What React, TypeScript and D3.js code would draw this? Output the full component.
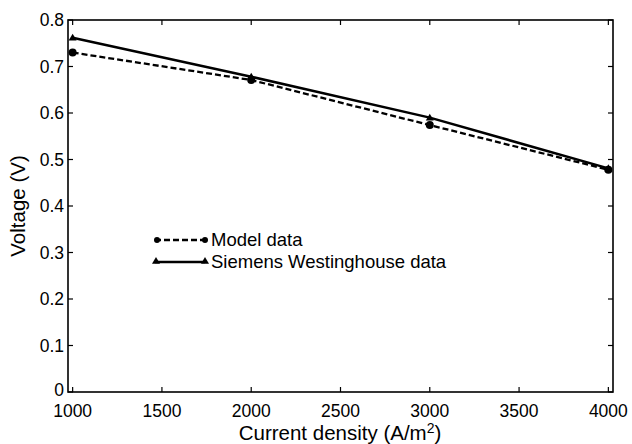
import React from "react";
import * as d3 from "d3";

const currentDensity = [1000, 2000, 3000, 4000];
const modelVoltage = [0.73, 0.671, 0.574, 0.478];
const siemensVoltage = [0.762, 0.678, 0.59, 0.481];
const xTicks = [1000, 1500, 2000, 2500, 3000, 3500, 4000];
const yTicks = [0, 0.1, 0.2, 0.3, 0.4, 0.5, 0.6, 0.7, 0.8];
const seriesNames = ["Model data", "Siemens Westinghouse data"];

const W = 632, H = 444;
const L = 68, R = 613, T = 20, B = 392;

export default function App() {
  const x = d3.scaleLinear().domain([974, 4026]).range([L, R]);
  const y = d3.scaleLinear().domain([0, 0.8]).range([B, T]);
  const line = d3.line<number>().x((_, i) => x(currentDensity[i])).y((v) => y(v));
  const font = "'Liberation Sans', Arial, Helvetica, sans-serif";
  const tri = (cx: number, cy: number, s: number) =>
    `M${cx},${cy - s} L${cx + s},${cy + s * 0.7} L${cx - s},${cy + s * 0.7} Z`;
  const legX0 = 155, legX1 = 205;
  return (
    <svg width={W} height={H} style={{ position: "absolute", left: 0, top: 0 }} fontFamily={font}>
      <rect x={0} y={0} width={W} height={H} fill="#fff" />
      <rect x={L} y={T} width={R - L} height={B - T} fill="none" stroke="#000" strokeWidth={1.6} />
      {xTicks.map((t) => (
        <g key={"x" + t}>
          <line x1={x(t)} x2={x(t)} y1={B} y2={B - 5} stroke="#000" strokeWidth={1.2} />
          <line x1={x(t)} x2={x(t)} y1={T} y2={T + 5} stroke="#000" strokeWidth={1.2} />
          <text x={x(t)} y={B + 25} fontSize={17.5} textAnchor="middle" fill="#000">{t}</text>
        </g>
      ))}
      {yTicks.map((t) => (
        <g key={"y" + t}>
          <line x1={L} x2={L + 5} y1={y(t)} y2={y(t)} stroke="#000" strokeWidth={1.2} />
          <line x1={R} x2={R - 5} y1={y(t)} y2={y(t)} stroke="#000" strokeWidth={1.2} />
          <text x={L - 4} y={y(t) + (t === 0 ? 4 : 6)} fontSize={17.5} textAnchor="end" fill="#000">{t === 0 ? "0" : t.toFixed(1)}</text>
        </g>
      ))}
      <path d={line(siemensVoltage) || ""} fill="none" stroke="#000" strokeWidth={2.5} />
      <path d={line(modelVoltage) || ""} fill="none" stroke="#000" strokeWidth={2.3} strokeDasharray="6,3" />
      {siemensVoltage.map((v, i) => (
        <path key={"s" + i} d={tri(x(currentDensity[i]), y(v), 4)} fill="#000" />
      ))}
      {modelVoltage.map((v, i) => (
        <circle key={"m" + i} cx={x(currentDensity[i])} cy={y(v)} r={4} fill="#000" />
      ))}
      <line x1={legX0} x2={legX1} y1={240} y2={240} stroke="#000" strokeWidth={2.3} strokeDasharray="6,3" />
      <circle cx={legX0 + 2} cy={240} r={3} fill="#000" />
      <circle cx={legX1} cy={240} r={3} fill="#000" />
      <text x={legX1 + 6} y={246} fontSize={18.5} fill="#000">{seriesNames[0]}</text>
      <line x1={legX0} x2={legX1} y1={262} y2={262} stroke="#000" strokeWidth={2.5} />
      <path d={tri(legX0 + 1, 261, 4)} fill="#000" />
      <path d={tri(legX1, 261, 4)} fill="#000" />
      <text x={legX1 + 6} y={268} fontSize={18.5} fill="#000">{seriesNames[1]}</text>
      <text x={340} y={440} fontSize={20.5} textAnchor="middle" fill="#000">
        Current density (A/m<tspan dy={-7} fontSize={14}>2</tspan><tspan dy={7}>)</tspan>
      </text>
      <text transform={`translate(25,${(T + B) / 2}) rotate(-90)`} fontSize={20.5} textAnchor="middle" fill="#000">Voltage (V)</text>
    </svg>
  );
}
